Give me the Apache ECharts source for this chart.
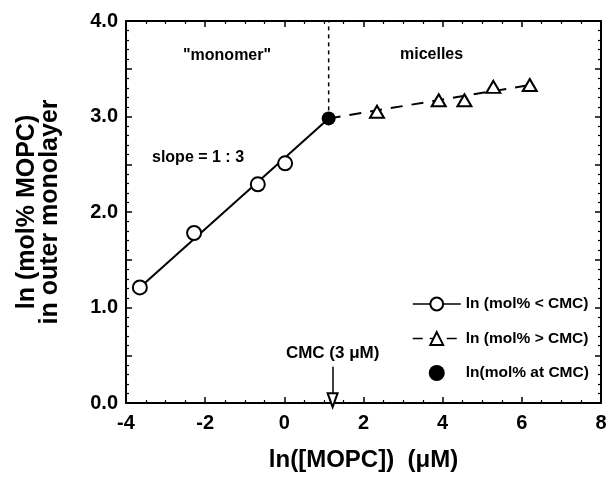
<!DOCTYPE html>
<html>
<head>
<meta charset="utf-8">
<script src="https://cdn.jsdelivr.net/npm/echarts@6/dist/echarts.min.js"></script>
<style>
  html, body { margin: 0; padding: 0; background: #fff; }
  #chart { width: 613px; height: 482px; }
</style>
</head>
<body>
<div id="chart"></div>
<script>
// data: x = ln([MOPC]) (uM), y = ln(mol% MOPC in outer monolayer)
const monomerPts = [[-3.65, 1.21], [-2.28, 1.78], [-0.67, 2.29], [0.02, 2.51]];
const micellePts = [[2.34, 3.05], [3.9, 3.17], [4.55, 3.17], [5.28, 3.31], [6.2, 3.33]];
const cmcPt = [[1.12, 2.98]];
// fitted lines drawn in the figure
const monomerFit = [[-3.65, 1.21], [1.12, 2.98]];
const micelleFit = [[1.12, 2.98], [6.2, 3.33]];
// dotted divider and CMC arrow
const cmcDivider = [[1.12, 2.98], [1.12, 4.0]];
const cmcArrow = [[1.22, 0.38], [1.22, 0.03]];

const names = ['ln (mol% < CMC)', 'ln (mol% > CMC)', 'ln(mol% at CMC)'];
const FONT = 'Liberation Sans, Arial, sans-serif';

let chart = echarts.init(document.getElementById('chart'), null, { renderer: 'canvas' });

const tickAxis = {
    axisLine: { show: true, onZero: false, lineStyle: { color: '#000', width: 2 } },
    axisTick: { show: true, inside: true, length: 6, lineStyle: { color: '#000', width: 1.5 } },
    minorTick: { show: true, length: 3, lineStyle: { color: '#000', width: 1.2 } },
    splitLine: { show: false },
    minorSplitLine: { show: false },
};

const option = {
    animation: false,
    backgroundColor: '#fff',
    grid: { left: 126, right: 12, top: 21, bottom: 79 },
    xAxis: [
        Object.assign({}, tickAxis, {
            type: 'value', min: -4, max: 8, interval: 2,
            minorTick: Object.assign({}, tickAxis.minorTick, { splitNumber: 4 }),
            axisLabel: { color: '#000', fontFamily: FONT, fontWeight: 'bold', fontSize: 20, margin: 10 },
            name: 'ln([MOPC])  (\u03bcM)', nameLocation: 'middle', nameGap: 45,
            nameTextStyle: { color: '#000', fontFamily: FONT, fontWeight: 'bold', fontSize: 24 },
        }),
        Object.assign({}, tickAxis, {
            type: 'value', min: -4, max: 8, interval: 2, position: 'top',
            minorTick: Object.assign({}, tickAxis.minorTick, { splitNumber: 4 }),
            axisLabel: { show: false },
        }),
    ],
    yAxis: [
        Object.assign({}, tickAxis, {
            type: 'value', min: 0, max: 4, interval: 0.5,
            minorTick: Object.assign({}, tickAxis.minorTick, { splitNumber: 5 }),
            axisLabel: {
                color: '#000', fontFamily: FONT, fontWeight: 'bold', fontSize: 20, margin: 8,
                formatter: function (v) { return Number.isInteger(v) ? v.toFixed(1) : ''; },
            },
            name: 'ln (mol% MOPC)\nin outer monolayer', nameLocation: 'middle', nameGap: 64, nameRotate: 90,
            nameTextStyle: { color: '#000', fontFamily: FONT, fontWeight: 'bold', fontSize: 25, lineHeight: 23 },
        }),
        Object.assign({}, tickAxis, {
            type: 'value', min: 0, max: 4, interval: 0.5, position: 'right',
            minorTick: Object.assign({}, tickAxis.minorTick, { splitNumber: 5 }),
            axisLabel: { show: false },
        }),
    ],
    legend: {
        orient: 'vertical', left: 407, top: 291,
        itemWidth: 48, itemHeight: 16, itemGap: 18.5,
        textStyle: { color: '#000', fontFamily: FONT, fontWeight: 'bold', fontSize: 15.5 },
        lineStyle: { opacity: 1, color: '#000', width: 1.5 },
        data: [
            { name: names[0], lineStyle: { opacity: 1, type: 'solid', color: '#000', width: 1.5 } },
            { name: names[1], lineStyle: { opacity: 1, type: [10, 7], color: '#000', width: 1.5 } },
            { name: names[2] },
        ],
    },
    series: [
        {
            name: 'fitMonomer', type: 'line', data: monomerFit, symbol: 'none', z: 1,
            lineStyle: { color: '#000', width: 2 },
        },
        {
            name: 'fitMicelle', type: 'line', data: micelleFit, symbol: 'none', z: 1,
            lineStyle: { color: '#000', width: 2, type: [12, 9] },
        },
        {
            name: 'divider', type: 'line', data: cmcDivider, symbol: 'none', z: 1,
            lineStyle: { color: '#000', width: 1.5, type: [4, 4] },
            markLine: {
                silent: true, symbol: ['none', 'emptyTriangle'], symbolSize: [10, 14],
                lineStyle: { color: '#000', width: 1.5, type: 'solid' },
                label: {
                    show: true, position: 'start', distance: 5, formatter: 'CMC (3 \u03bcM)',
                    color: '#000', fontFamily: FONT, fontWeight: 'bold', fontSize: 17,
                },
                data: [[{ coord: cmcArrow[0] }, { coord: cmcArrow[1] }]],
            },
        },
        {
            name: names[0], type: 'line', data: monomerPts, z: 3,
            symbol: 'emptyCircle', symbolSize: 14,
            itemStyle: { color: '#000', borderColor: '#000', borderWidth: 1.5 },
            lineStyle: { opacity: 0 },
        },
        {
            name: names[1], type: 'line', data: micellePts, z: 3,
            symbol: 'emptyTriangle', symbolSize: [14, 12],
            itemStyle: { color: '#000', borderColor: '#000', borderWidth: 1.5 },
            lineStyle: { opacity: 0 },
        },
        {
            name: names[2], type: 'scatter', data: cmcPt, z: 4,
            symbol: 'circle', symbolSize: 14,
            itemStyle: { color: '#000', opacity: 1 },
        },
    ],
    graphic: [
        { type: 'text', left: 183, top: 48, style: { text: '"monomer"', fill: '#000', font: 'bold 16px ' + FONT } },
        { type: 'text', left: 400, top: 47, style: { text: 'micelles', fill: '#000', font: 'bold 16px ' + FONT } },
        { type: 'text', left: 152, top: 150, style: { text: 'slope = 1 : 3', fill: '#000', font: 'bold 16px ' + FONT } },
    ],
};

chart.setOption(option);
</script>
</body>
</html>
